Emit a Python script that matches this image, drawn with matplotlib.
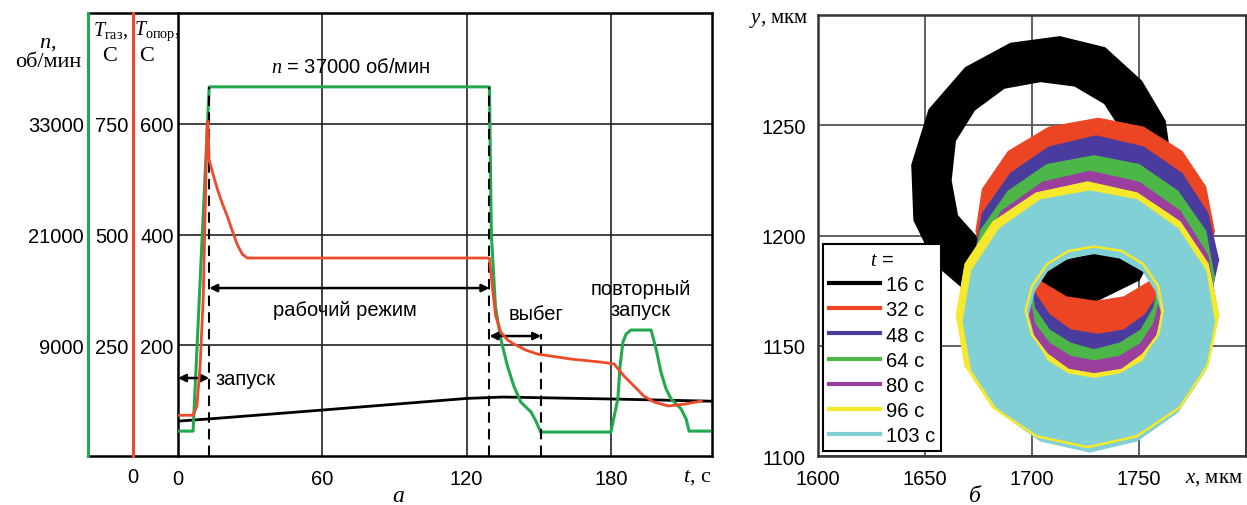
import matplotlib
matplotlib.use('Agg')
import matplotlib.pyplot as plt
from matplotlib.lines import Line2D
from matplotlib.path import Path
from matplotlib.patches import PathPatch

plt.rcParams['font.family'] = ['Liberation Sans', 'DejaVu Sans']
plt.rcParams['mathtext.fontset'] = 'custom'
plt.rcParams['mathtext.it'] = 'Liberation Serif:italic'
plt.rcParams['mathtext.rm'] = 'Liberation Serif'

# ---- panel a: speed and temperatures vs time ----
t_n = [0, 6.3, 13, 129.5, 130.3, 132, 134.2, 137, 139.6, 142.5, 146.7, 148.8, 150.8,
       180, 182.9, 183.8, 185, 186.3, 188.3, 196.7, 198.8, 200.8, 202.9, 205, 209.2,
       211.3, 212.5, 221]
n_rpm = [-300, -300, 37000, 37000, 21000, 13200, 9700, 6750, 4600, 2850, 1800, 800, -400,
         -400, 3200, 6750, 9350, 10200, 10650, 10650, 8600, 6100, 4300, 3200, 2100,
         1000, -300, -300]

t_gas = [0, 6.3, 7.9, 9.2, 10.5, 12.1, 12.5, 12.9, 14.6, 16.3, 18.3, 20.4, 22.5, 24.6,
         26.7, 28.8, 129.5, 130.8, 132.1, 134.2, 137, 139.6, 144.6, 149.6, 163.3, 175.8,
         181.3, 185.4, 189.6, 193.8, 197.9, 203.8, 210.4, 217.5]
T_gas = [92, 92, 113, 203, 354, 743, 756, 670, 636, 604, 572, 543, 510, 478,
         456, 447, 447, 377, 316, 280, 262, 253, 239, 230, 219, 212,
         208, 181, 158, 135, 122, 113, 117, 124]

t_opor = [0, 13, 60, 120, 135, 180, 222]
T_opor = [63, 67, 83, 104, 106.5, 103, 99]

t_ticks = [0, 60, 120, 180]
n_ticks = [9000, 21000, 33000]
gas_ticks = [250, 500, 750]
opor_ticks = [200, 400, 600]

# ---- panel b: shaft orbits (outer / inner edge of each band), mkm ----
labels = ['16 с', '32 с', '48 с', '64 с', '80 с', '96 с', '103 с']
colors = ['#000000', '#ec4524', '#4a3c9e', '#4cb748', '#9b3f9f', '#f6e82a', '#80d0d6']

o16_x = [1765, 1762, 1751, 1734, 1713, 1690, 1669, 1652, 1644, 1645, 1655, 1673, 1699, 1727, 1750, 1762]
o16_y = [1232, 1252, 1270, 1285, 1290, 1287, 1276, 1257, 1232, 1207, 1187, 1172, 1166, 1169, 1180, 1202]
i16_x = [1746, 1742, 1734, 1720, 1704, 1687, 1673, 1664, 1662, 1665, 1676, 1692, 1708, 1727, 1739, 1745]
i16_y = [1232, 1248, 1260, 1268, 1270, 1267, 1257, 1243, 1225, 1209, 1197, 1188, 1187, 1191, 1202, 1216]

o32_x = [1785, 1781, 1770, 1752, 1731, 1708, 1689, 1677, 1674, 1678, 1690, 1708, 1730, 1751, 1769, 1781]
o32_y = [1202, 1222, 1238, 1249, 1253, 1249, 1238, 1221, 1202, 1183, 1166, 1155, 1151, 1155, 1166, 1183]
i32_x = [1766, 1763, 1755, 1743, 1730, 1716, 1704, 1696, 1694, 1696, 1704, 1716, 1730, 1743, 1755, 1763]
i32_y = [1202, 1214, 1225, 1232, 1234, 1232, 1225, 1214, 1202, 1189, 1179, 1172, 1170, 1172, 1179, 1189]

o48_x = [1787, 1782, 1770, 1752, 1730, 1708, 1690, 1677, 1673, 1678, 1690, 1708, 1730, 1752, 1770, 1782]
o48_y = [1189, 1210, 1228, 1240, 1245, 1240, 1228, 1210, 1189, 1167, 1149, 1137, 1133, 1137, 1149, 1167]
i48_x = [1762, 1760, 1753, 1743, 1731, 1718, 1708, 1701, 1699, 1701, 1708, 1718, 1731, 1743, 1753, 1760]
i48_y = [1186, 1197, 1207, 1214, 1216, 1214, 1207, 1197, 1186, 1174, 1164, 1157, 1155, 1157, 1164, 1174]

o64_x = [1785, 1781, 1768, 1750, 1729, 1707, 1689, 1676, 1672, 1676, 1689, 1707, 1729, 1750, 1768, 1781]
o64_y = [1181, 1202, 1220, 1232, 1236, 1232, 1220, 1202, 1181, 1160, 1142, 1130, 1126, 1130, 1142, 1160]
i64_x = [1760, 1757, 1751, 1741, 1729, 1718, 1708, 1701, 1699, 1701, 1708, 1718, 1729, 1741, 1751, 1757]
i64_y = [1179, 1190, 1200, 1207, 1209, 1207, 1200, 1190, 1179, 1167, 1157, 1151, 1148, 1151, 1157, 1167]

o80_x = [1786, 1782, 1769, 1750, 1727, 1705, 1686, 1673, 1669, 1673, 1686, 1705, 1727, 1750, 1769, 1782]
o80_y = [1168, 1191, 1211, 1224, 1229, 1224, 1211, 1191, 1168, 1145, 1125, 1112, 1108, 1112, 1125, 1145]
i80_x = [1760, 1757, 1751, 1741, 1729, 1718, 1708, 1701, 1699, 1701, 1708, 1718, 1729, 1741, 1751, 1757]
i80_y = [1171, 1181, 1190, 1196, 1198, 1196, 1190, 1181, 1171, 1160, 1151, 1145, 1143, 1145, 1151, 1160]

o96_x = [1787, 1782, 1769, 1749, 1726, 1702, 1682, 1669, 1665, 1669, 1682, 1702, 1726, 1749, 1769, 1782]
o96_y = [1164, 1187, 1206, 1219, 1224, 1219, 1206, 1187, 1164, 1141, 1122, 1109, 1104, 1109, 1122, 1141]
i96_x = [1761, 1759, 1752, 1742, 1729, 1717, 1707, 1700, 1697, 1700, 1707, 1717, 1729, 1742, 1752, 1759]
i96_y = [1166, 1177, 1187, 1193, 1195, 1193, 1187, 1177, 1166, 1155, 1146, 1139, 1137, 1139, 1146, 1155]

o103_x = [1785, 1781, 1768, 1749, 1727, 1704, 1685, 1672, 1668, 1672, 1685, 1704, 1727, 1749, 1768, 1781]
o103_y = [1161, 1184, 1203, 1216, 1220, 1216, 1203, 1184, 1161, 1139, 1120, 1107, 1102, 1107, 1120, 1139]
i103_x = [1761, 1758, 1752, 1741, 1729, 1717, 1707, 1701, 1698, 1701, 1707, 1717, 1729, 1741, 1752, 1758]
i103_y = [1164, 1175, 1184, 1190, 1192, 1190, 1184, 1175, 1164, 1153, 1143, 1137, 1135, 1137, 1143, 1153]

orbits = [(o16_x, o16_y, i16_x, i16_y), (o32_x, o32_y, i32_x, i32_y),
          (o48_x, o48_y, i48_x, i48_y), (o64_x, o64_y, i64_x, i64_y),
          (o80_x, o80_y, i80_x, i80_y), (o96_x, o96_y, i96_x, i96_y),
          (o103_x, o103_y, i103_x, i103_y)]

GREEN = '#22a94f'
RED = '#ee4a2a'
SERIF = 'Liberation Serif'
FS = 14.5

fig = plt.figure(figsize=(12.47, 5.06), dpi=100)

# ---------------- left panel ----------------
ax = fig.add_axes([0.1427, 0.0968, 0.4282, 0.8755])
ax.set_xlim(0, 222)
ax.set_ylim(0, 800)
ax.set_xticks(t_ticks)
ax.set_yticks(opor_ticks)
ax.grid(True, color='#222222', lw=1.2)
ax.set_axisbelow(True)
ax.tick_params(length=0, labelsize=FS)
ax.tick_params(axis='x', pad=9)
ax.tick_params(axis='y', pad=3)
for s in ax.spines.values():
    s.set_linewidth(1.8)
ax.plot(t_opor, T_opor, color='black', lw=2.0)

ax_n = ax.twinx()
ax_n.set_ylim(-3000, 45000)
ax_n.set_yticks(n_ticks)
ax_n.yaxis.tick_left()
ax_n.spines['left'].set_position(('axes', -0.1685))
ax_n.spines['left'].set_color(GREEN)
ax_n.spines['left'].set_linewidth(2.2)
for k in ['right', 'top', 'bottom']:
    ax_n.spines[k].set_visible(False)
ax_n.tick_params(length=0, labelsize=FS, pad=3)
ax_n.plot(t_n, n_rpm, color=GREEN, lw=2.2)

# gas temperature drawn over the speed curve
ax_g = ax.twinx()
ax_g.set_ylim(0, 1000)
ax_g.set_yticks(gas_ticks)
ax_g.yaxis.tick_left()
ax_g.spines['left'].set_position(('axes', -0.0843))
ax_g.spines['left'].set_color(RED)
ax_g.spines['left'].set_linewidth(2.2)
for k in ['right', 'top', 'bottom']:
    ax_g.spines[k].set_visible(False)
ax_g.tick_params(length=0, labelsize=FS, pad=3)
ax_g.plot(t_gas, T_gas, color=RED, lw=2.0)

# frame lines continued over the extra axes
for yy in (0, 1):
    ax.plot([-0.1685, 0], [yy, yy], transform=ax.transAxes, color='black',
            lw=1.8, clip_on=False)

# phase markers
dash = (0, (5, 3))
ax_n.plot([13, 13], [-3000, 37000], color='black', lw=1.5, ls=dash)
ax_n.plot([129.5, 129.5], [-3000, 37000], color='black', lw=1.5, ls=dash)
ax_n.plot([151, 151], [-3000, 10200], color='black', lw=1.5, ls=dash)

arr = dict(arrowstyle='<|-|>', color='black', lw=1.8, mutation_scale=11,
           shrinkA=0, shrinkB=0)
ax_n.annotate('', xy=(0, 5450), xytext=(13, 5450), arrowprops=arr)
ax_n.annotate('', xy=(13, 15200), xytext=(129.5, 15200), arrowprops=arr)
ax_n.annotate('', xy=(129.5, 10000), xytext=(151, 10000), arrowprops=arr)

ax_n.text(15.5, 5450, 'запуск', fontsize=FS, va='center', ha='left')
ax_n.text(69.6, 12900, 'рабочий режим', fontsize=FS, va='center', ha='center')
ax_n.text(148.8, 12400, 'выбег', fontsize=FS, va='center', ha='center')
ax_n.text(192.5, 14000, 'повторный\nзапуск', fontsize=FS, va='center', ha='center',
          linespacing=1.15)
ax_n.text(71.7, 39200, '$n$ = 37000 об/мин', fontsize=FS, va='center', ha='center')

# axis titles
ax.text(-0.2434, 0.912, '$n$,\nоб/мин', transform=ax.transAxes, ha='center',
        va='center', family=SERIF, fontsize=16, linespacing=1.0)
ax.text(-0.1255, 0.962, r'$T_{\mathrm{газ}}$,', transform=ax.transAxes, ha='center',
        va='center', family=SERIF, fontsize=14.5)
ax.text(-0.129, 0.903, 'С', transform=ax.transAxes, ha='center', va='center',
        family=SERIF, fontsize=16)
ax.text(-0.039, 0.962, r'$T_{\mathrm{опор}}$,', transform=ax.transAxes, ha='center',
        va='center', family=SERIF, fontsize=14.5)
ax.text(-0.058, 0.903, 'С', transform=ax.transAxes, ha='center', va='center',
        family=SERIF, fontsize=16)
ax.text(-0.0843, -0.047, '0', transform=ax.transAxes, ha='center', va='center',
        fontsize=FS)
ax.text(0.9457, -0.047, '$t$, с', transform=ax.transAxes, ha='left', va='center',
        family=SERIF, fontsize=16)

# ---------------- right panel ----------------
ax2 = fig.add_axes([0.656, 0.0968, 0.3432, 0.8715])
ax2.set_xlim(1600, 1800)
ax2.set_ylim(1100, 1300)
ax2.set_xticks([1600, 1650, 1700, 1750, 1800])
ax2.set_xticklabels(['1600', '1650', '1700', '1750', ''])
ax2.set_yticks([1100, 1150, 1200, 1250, 1300])
ax2.set_yticklabels(['1100', '1150', '1200', '1250', ''])
ax2.grid(True, color='#555555', lw=1.3)
ax2.set_axisbelow(True)
ax2.tick_params(length=0, labelsize=FS, pad=9)
for s in ax2.spines.values():
    s.set_linewidth(1.8)
    s.set_color('#333333')

for (ox, oy, ix, iy), c in zip(orbits, colors):
    verts = list(zip(ox, oy)) + [(ox[0], oy[0])]
    verts += list(zip(ix[::-1], iy[::-1])) + [(ix[-1], iy[-1])]
    codes = [Path.MOVETO] + [Path.LINETO] * (len(ox) - 1) + [Path.CLOSEPOLY]
    codes += [Path.MOVETO] + [Path.LINETO] * (len(ix) - 1) + [Path.CLOSEPOLY]
    ax2.add_patch(PathPatch(Path(verts, codes), facecolor=c, edgecolor='none', zorder=2))
    ax2.plot(list(ox) + [ox[0]], list(oy) + [oy[0]], color=c, lw=1.4, zorder=2)
    ax2.plot(list(ix) + [ix[0]], list(iy) + [iy[0]], color=c, lw=1.4, zorder=2)

# yellow traces show along the edges of the last band
ax2.plot(o96_x + [o96_x[0]], o96_y + [o96_y[0]], color=colors[5], lw=1.8, zorder=3)
ax2.plot(i96_x + [i96_x[0]], i96_y + [i96_y[0]], color=colors[5], lw=1.8, zorder=3)

handles = [Line2D([], [], color=c, lw=3) for c in colors]
leg = ax2.legend(handles, labels, title='$t$ =', loc='lower left',
                 bbox_to_anchor=(0.012, 0.012), fontsize=14.5, title_fontsize=14.5,
                 frameon=True, fancybox=False, framealpha=1, edgecolor='black',
                 handlelength=2.5, handletextpad=0.3, labelspacing=0.3,
                 borderpad=0.3, borderaxespad=0)
leg.get_frame().set_linewidth(1.5)
leg.set_zorder(5)

ax2.text(-0.0234, 0.991, '$y$, мкм', transform=ax2.transAxes, ha='right', va='center',
         family=SERIF, fontsize=15)
ax2.text(0.8575, -0.0476, '$x$, мкм', transform=ax2.transAxes, ha='left', va='center',
         family=SERIF, fontsize=15)

fig.text(0.319, 0.008, 'а', family=SERIF, style='italic', fontsize=17, ha='center',
         va='baseline')
fig.text(0.782, 0.008, 'б', family=SERIF, style='italic', fontsize=17, ha='center',
         va='baseline')

fig.savefig('out.png', dpi=100)
